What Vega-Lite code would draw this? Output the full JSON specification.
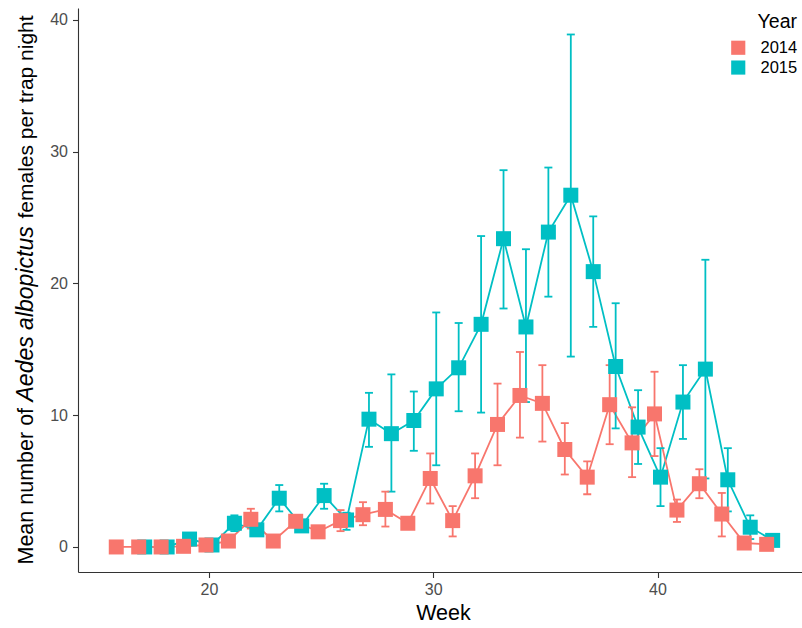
{
  "$schema": "https://vega.github.io/schema/vega-lite/v6.json",
  "width": 730,
  "height": 564,
  "autosize": {"type": "none"},
  "padding": {"left": 78, "top": 8, "right": 0, "bottom": 56},
  "background": "white",
  "config": {"view": {"stroke": null}, "font": "Liberation Sans"},
  "data": {"values": [
    {"Week": 17, "Year": "2015", "Mean": 0, "Lo": 0, "Hi": 0},
    {"Week": 18, "Year": "2015", "Mean": 0, "Lo": 0, "Hi": 0},
    {"Week": 19, "Year": "2015", "Mean": 0.6, "Lo": 0.4, "Hi": 0.8},
    {"Week": 20, "Year": "2015", "Mean": 0.15, "Lo": 0.05, "Hi": 0.3},
    {"Week": 21, "Year": "2015", "Mean": 1.8, "Lo": 1.2, "Hi": 2.4},
    {"Week": 22, "Year": "2015", "Mean": 1.3, "Lo": 1.1, "Hi": 1.5},
    {"Week": 23, "Year": "2015", "Mean": 3.7, "Lo": 2.7, "Hi": 4.7},
    {"Week": 24, "Year": "2015", "Mean": 1.6, "Lo": 1.3, "Hi": 1.9},
    {"Week": 25, "Year": "2015", "Mean": 3.9, "Lo": 2.9, "Hi": 4.8},
    {"Week": 26, "Year": "2015", "Mean": 2.05, "Lo": 1.3, "Hi": 2.6},
    {"Week": 27, "Year": "2015", "Mean": 9.7, "Lo": 7.6, "Hi": 11.7},
    {"Week": 28, "Year": "2015", "Mean": 8.6, "Lo": 4.2, "Hi": 13.1},
    {"Week": 29, "Year": "2015", "Mean": 9.6, "Lo": 7.3, "Hi": 11.8},
    {"Week": 30, "Year": "2015", "Mean": 12.0, "Lo": 6.2, "Hi": 17.8},
    {"Week": 31, "Year": "2015", "Mean": 13.6, "Lo": 10.3, "Hi": 17.0},
    {"Week": 32, "Year": "2015", "Mean": 16.9, "Lo": 10.2, "Hi": 23.6},
    {"Week": 33, "Year": "2015", "Mean": 23.4, "Lo": 18.1, "Hi": 28.6},
    {"Week": 34, "Year": "2015", "Mean": 16.7, "Lo": 11.0, "Hi": 22.6},
    {"Week": 35, "Year": "2015", "Mean": 23.9, "Lo": 19.0, "Hi": 28.8},
    {"Week": 36, "Year": "2015", "Mean": 26.7, "Lo": 14.45, "Hi": 38.9},
    {"Week": 37, "Year": "2015", "Mean": 20.9, "Lo": 16.7, "Hi": 25.1},
    {"Week": 38, "Year": "2015", "Mean": 13.7, "Lo": 9.0, "Hi": 18.5},
    {"Week": 39, "Year": "2015", "Mean": 9.1, "Lo": 6.3, "Hi": 11.9},
    {"Week": 40, "Year": "2015", "Mean": 5.3, "Lo": 3.1, "Hi": 7.5},
    {"Week": 41, "Year": "2015", "Mean": 11.0, "Lo": 8.2, "Hi": 13.8},
    {"Week": 42, "Year": "2015", "Mean": 13.5, "Lo": 5.2, "Hi": 21.8},
    {"Week": 43, "Year": "2015", "Mean": 5.1, "Lo": 2.7, "Hi": 7.5},
    {"Week": 44, "Year": "2015", "Mean": 1.5, "Lo": 0.6, "Hi": 2.4},
    {"Week": 45, "Year": "2015", "Mean": 0.5, "Lo": 0.3, "Hi": 0.7},
    {"Week": 16, "Year": "2014", "Mean": 0, "Lo": 0, "Hi": 0},
    {"Week": 17, "Year": "2014", "Mean": 0, "Lo": 0, "Hi": 0},
    {"Week": 18, "Year": "2014", "Mean": 0, "Lo": 0, "Hi": 0},
    {"Week": 19, "Year": "2014", "Mean": 0.05, "Lo": 0, "Hi": 0.1},
    {"Week": 20, "Year": "2014", "Mean": 0.15, "Lo": 0.05, "Hi": 0.3},
    {"Week": 21, "Year": "2014", "Mean": 0.45, "Lo": 0.3, "Hi": 0.6},
    {"Week": 22, "Year": "2014", "Mean": 2.1, "Lo": 1.4, "Hi": 2.9},
    {"Week": 23, "Year": "2014", "Mean": 0.45, "Lo": 0.3, "Hi": 0.6},
    {"Week": 24, "Year": "2014", "Mean": 1.95, "Lo": 1.7, "Hi": 2.2},
    {"Week": 25, "Year": "2014", "Mean": 1.15, "Lo": 0.9, "Hi": 1.4},
    {"Week": 26, "Year": "2014", "Mean": 2.0, "Lo": 1.2, "Hi": 2.8},
    {"Week": 27, "Year": "2014", "Mean": 2.45, "Lo": 1.65, "Hi": 3.4},
    {"Week": 28, "Year": "2014", "Mean": 2.85, "Lo": 1.55, "Hi": 4.2},
    {"Week": 29, "Year": "2014", "Mean": 1.8, "Lo": 1.55, "Hi": 2.1},
    {"Week": 30, "Year": "2014", "Mean": 5.2, "Lo": 3.3, "Hi": 7.1},
    {"Week": 31, "Year": "2014", "Mean": 2.0, "Lo": 0.8, "Hi": 3.1},
    {"Week": 32, "Year": "2014", "Mean": 5.4, "Lo": 3.7, "Hi": 7.1},
    {"Week": 33, "Year": "2014", "Mean": 9.3, "Lo": 6.2, "Hi": 12.4},
    {"Week": 34, "Year": "2014", "Mean": 11.5, "Lo": 8.3, "Hi": 14.8},
    {"Week": 35, "Year": "2014", "Mean": 10.9, "Lo": 8.0, "Hi": 13.8},
    {"Week": 36, "Year": "2014", "Mean": 7.4, "Lo": 5.5, "Hi": 9.4},
    {"Week": 37, "Year": "2014", "Mean": 5.3, "Lo": 4.0, "Hi": 6.5},
    {"Week": 38, "Year": "2014", "Mean": 10.8, "Lo": 7.8, "Hi": 13.8},
    {"Week": 39, "Year": "2014", "Mean": 7.9, "Lo": 5.3, "Hi": 10.6},
    {"Week": 40, "Year": "2014", "Mean": 10.1, "Lo": 6.9, "Hi": 13.3},
    {"Week": 41, "Year": "2014", "Mean": 2.8, "Lo": 1.9, "Hi": 3.6},
    {"Week": 42, "Year": "2014", "Mean": 4.8, "Lo": 3.7, "Hi": 5.9},
    {"Week": 43, "Year": "2014", "Mean": 2.5, "Lo": 0.8, "Hi": 4.1},
    {"Week": 44, "Year": "2014", "Mean": 0.3, "Lo": 0.1, "Hi": 0.5},
    {"Week": 45, "Year": "2014", "Mean": 0.2, "Lo": 0.1, "Hi": 0.3}
  ]},
  "encoding": {
    "x": {
      "field": "Week", "type": "quantitative",
      "scale": {"domain": [14.16, 46.71], "nice": false, "zero": false},
      "axis": {
        "values": [20, 30, 40], "title": "Week", "grid": false,
        "domainColor": "#333333", "domainWidth": 1.1,
        "tickColor": "#333333", "tickWidth": 1.1, "tickSize": 5.5,
        "labelFontSize": 16, "labelColor": "#4D4D4D", "labelPadding": 4,
        "titleFontSize": 21.5, "titleFontWeight": "normal", "titleColor": "black", "titlePadding": 5
      }
    },
    "color": {
      "field": "Year", "type": "nominal",
      "scale": {"domain": ["2014", "2015"], "range": ["#F8766D", "#00BFC4"]},
      "legend": {
        "orient": "none", "legendX": 652, "legendY": 5,
        "title": "Year", "titleFontSize": 19.5, "titleFontWeight": "normal", "titleColor": "black",
        "titleAnchor": "end", "titlePadding": 7,
        "labelFontSize": 16.5, "labelColor": "black", "labelOffset": 14,
        "symbolType": "square", "symbolSize": 200, "symbolStrokeWidth": 0, "symbolOpacity": 1,
        "rowPadding": 2.8, "padding": 0
      }
    }
  },
  "layer": [
    {
      "mark": {"type": "line", "strokeWidth": 1.8, "xOffset": {"expr": "datum.Year === '2014' ? -3 : 3"}},
      "encoding": {
        "y": {
          "field": "Mean", "type": "quantitative",
          "scale": {"domain": [-1.9, 40.91], "nice": false, "zero": false},
          "axis": {
            "orient": "left", "labels": false, "ticks": false, "domain": false, "grid": false,
            "title": "Mean number of", "titleFontSize": 21.5, "titleFontWeight": "normal", "titleColor": "black",
            "titleAngle": 270, "titleAlign": "left", "titleBaseline": "alphabetic", "titleX": -46, "titleY": 556
          }
        }
      }
    },
    {
      "mark": {"type": "rule", "strokeWidth": 1.8, "xOffset": {"expr": "datum.Year === '2014' ? -3 : 3"}},
      "encoding": {
        "y": {
          "field": "Lo", "type": "quantitative",
          "scale": {"domain": [-1.9, 40.91], "nice": false, "zero": false},
          "axis": {
            "orient": "left", "labels": false, "ticks": false, "domain": false, "grid": false,
            "title": "Aedes albopictus", "titleFontSize": 23, "titleFontWeight": "normal", "titleFontStyle": "italic", "titleColor": "black",
            "titleAngle": 270, "titleAlign": "left", "titleBaseline": "alphabetic", "titleX": -46, "titleY": 393
          }
        },
        "y2": {"field": "Hi"}
      }
    },
    {
      "mark": {"type": "tick", "orient": "horizontal", "size": 8, "thickness": 1.8, "opacity": 1, "xOffset": {"expr": "datum.Year === '2014' ? -3 : 3"}},
      "encoding": {
        "y": {
          "field": "Lo", "type": "quantitative",
          "scale": {"domain": [-1.9, 40.91], "nice": false, "zero": false},
          "axis": {
            "orient": "left", "labels": false, "ticks": false, "domain": false, "grid": false,
            "title": "females per trap night", "titleFontSize": 21, "titleFontWeight": "normal", "titleColor": "black",
            "titleAngle": 270, "titleAlign": "left", "titleBaseline": "alphabetic", "titleX": -46, "titleY": 210
          }
        }
      }
    },
    {
      "mark": {"type": "tick", "orient": "horizontal", "size": 8, "thickness": 1.8, "opacity": 1, "xOffset": {"expr": "datum.Year === '2014' ? -3 : 3"}},
      "encoding": {
        "y": {
          "field": "Hi", "type": "quantitative",
          "scale": {"domain": [-1.9, 40.91], "nice": false, "zero": false},
          "axis": null
        }
      }
    },
    {
      "mark": {"type": "point", "shape": "square", "filled": true, "size": 225, "opacity": 1, "xOffset": {"expr": "datum.Year === '2014' ? -3 : 3"}},
      "encoding": {
        "y": {
          "field": "Mean", "type": "quantitative",
          "scale": {"domain": [-1.9, 40.91], "nice": false, "zero": false},
          "axis": {
            "orient": "left", "values": [0, 10, 20, 30, 40], "title": null, "grid": false,
            "domainColor": "#333333", "domainWidth": 1.1,
            "tickColor": "#333333", "tickWidth": 1.1, "tickSize": 5.5,
            "labelFontSize": 16, "labelColor": "#4D4D4D", "labelPadding": 5
          }
        }
      }
    }
  ],
  "resolve": {"axis": {"y": "independent"}}
}
